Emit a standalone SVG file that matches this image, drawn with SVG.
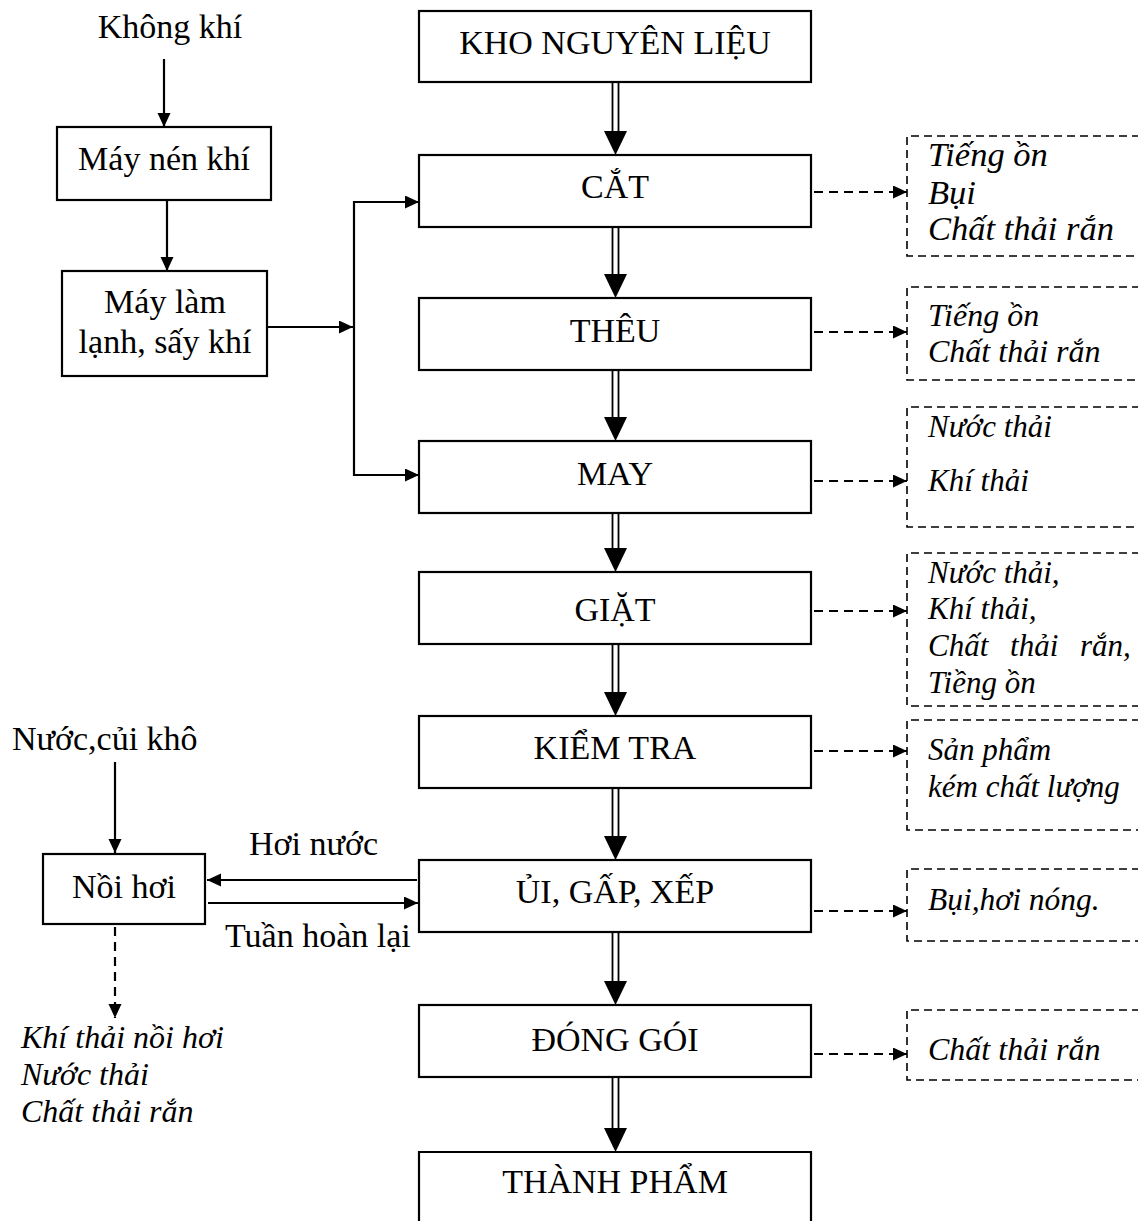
<svg xmlns="http://www.w3.org/2000/svg" width="1138" height="1221" viewBox="0 0 1138 1221">
<style>
  text { font-family: "Liberation Serif", "Times New Roman", serif; font-size: 34px; fill: #000; }
  .c { text-anchor: middle; }
  .i { font-style: italic; }
  .s32 { font-size: 32px; }
  .s31 { font-size: 31px; }
  .box { fill: #fff; stroke: #000; stroke-width: 2.2; }
  .ln { fill: none; stroke: #000; stroke-width: 2.2; }
  .dl { fill: none; stroke: #000; stroke-width: 2.2; stroke-dasharray: 9 6; }
  .db { fill: none; stroke: #000; stroke-width: 1.6; stroke-dasharray: 8 5; }
  .tw { fill: none; stroke: #000; stroke-width: 1.8; }
  .hd { fill: #000; stroke: none; }
</style>
<defs>
  <marker id="ahs" markerUnits="userSpaceOnUse" markerWidth="15" markerHeight="14" refX="14" refY="6.5" orient="auto">
    <path d="M0,0 L14,6.5 L0,13 Z" fill="#000"/>
  </marker>
</defs>

<!-- Connectors -->
<g id="connectors">
  <g id="dbl-arrows">
    <path class="tw" d="M612.5,82 V132 M618.5,82 V132"/><polygon class="hd" points="604,131 627,131 615.5,155"/>
    <path class="tw" d="M612.5,227 V275 M618.5,227 V275"/><polygon class="hd" points="604,274 627,274 615.5,298"/>
    <path class="tw" d="M612.5,370 V418 M618.5,370 V418"/><polygon class="hd" points="604,417 627,417 615.5,441"/>
    <path class="tw" d="M612.5,513 V549 M618.5,513 V549"/><polygon class="hd" points="604,548 627,548 615.5,572"/>
    <path class="tw" d="M612.5,644 V693 M618.5,644 V693"/><polygon class="hd" points="604,692 627,692 615.5,716"/>
    <path class="tw" d="M612.5,788 V837 M618.5,788 V837"/><polygon class="hd" points="604,836 627,836 615.5,860"/>
    <path class="tw" d="M612.5,932 V982 M618.5,932 V982"/><polygon class="hd" points="604,981 627,981 615.5,1005"/>
    <path class="tw" d="M612.5,1077 V1129 M618.5,1077 V1129"/><polygon class="hd" points="604,1128 627,1128 615.5,1152"/>
  </g>
  <line class="ln" x1="164" y1="59" x2="164" y2="127" marker-end="url(#ahs)"/>
  <line class="ln" x1="167" y1="200" x2="167" y2="271" marker-end="url(#ahs)"/>
  <line class="ln" x1="267" y1="327" x2="353" y2="327" marker-end="url(#ahs)"/>
  <path class="ln" d="M356,202 H354 V475 H356"/>
  <line class="ln" x1="354" y1="202" x2="419" y2="202" marker-end="url(#ahs)"/>
  <line class="ln" x1="354" y1="475" x2="419" y2="475" marker-end="url(#ahs)"/>
  <line class="ln" x1="115" y1="762" x2="115" y2="853" marker-end="url(#ahs)"/>
  <line class="ln" x1="417" y1="880" x2="207" y2="880" marker-end="url(#ahs)"/>
  <line class="ln" x1="208" y1="903" x2="418" y2="903" marker-end="url(#ahs)"/>
  <line class="dl" x1="115" y1="927" x2="115" y2="1018" marker-end="url(#ahs)"/>
  <line class="dl" x1="814" y1="192" x2="907" y2="192" marker-end="url(#ahs)"/>
  <line class="dl" x1="814" y1="332" x2="907" y2="332" marker-end="url(#ahs)"/>
  <line class="dl" x1="814" y1="481" x2="907" y2="481" marker-end="url(#ahs)"/>
  <line class="dl" x1="814" y1="611" x2="907" y2="611" marker-end="url(#ahs)"/>
  <line class="dl" x1="814" y1="751" x2="907" y2="751" marker-end="url(#ahs)"/>
  <line class="dl" x1="814" y1="911" x2="907" y2="911" marker-end="url(#ahs)"/>
  <line class="dl" x1="814" y1="1054" x2="907" y2="1054" marker-end="url(#ahs)"/>
</g>

<!-- Main process nodes -->
<g id="kho"><rect class="box" x="419" y="11" width="392" height="71"/><text class="c" x="615" y="54">KHO NGUYÊN LIỆU</text></g>
<g id="cat"><rect class="box" x="419" y="155" width="392" height="72"/><text class="c" x="615" y="198">CẮT</text></g>
<g id="theu"><rect class="box" x="419" y="298" width="392" height="72"/><text class="c" x="615" y="342">THÊU</text></g>
<g id="may"><rect class="box" x="419" y="441" width="392" height="72"/><text class="c" x="615" y="485">MAY</text></g>
<g id="giat"><rect class="box" x="419" y="572" width="392" height="72"/><text class="c" x="615" y="621">GIẶT</text></g>
<g id="kiemtra"><rect class="box" x="419" y="716" width="392" height="72"/><text class="c" x="615" y="759">KIỂM TRA</text></g>
<g id="ui"><rect class="box" x="419" y="860" width="392" height="72"/><text class="c" x="615" y="903">ỦI, GẤP, XẾP</text></g>
<g id="donggoi"><rect class="box" x="419" y="1005" width="392" height="72"/><text class="c" x="615" y="1051">ĐÓNG GÓI</text></g>
<g id="thanhpham"><path class="ln" d="M419,1225 V1152 H811 V1225"/><text class="c" x="615" y="1193">THÀNH PHẨM</text></g>

<!-- Air system -->
<g id="khongkhi"><text class="c" x="170" y="38">Không khí</text></g>
<g id="maynenkhi"><rect class="box" x="57" y="127" width="214" height="73"/><text class="c" x="164" y="170">Máy nén khí</text></g>
<g id="maylamlanh"><rect class="box" x="62" y="271" width="205" height="105"/><text class="c" x="165" y="313">Máy làm</text><text class="c" x="165" y="353">lạnh, sấy khí</text></g>

<!-- Boiler system -->
<g id="nuoccui"><text x="12" y="750">Nước,củi khô</text></g>
<g id="noihoi"><rect class="box" x="43" y="854" width="162" height="70"/><text class="c" x="124" y="898">Nồi hơi</text></g>
<g id="lbl-hoinuoc"><text x="249" y="855">Hơi nước</text></g>
<g id="lbl-tuanhoan"><text x="225" y="947">Tuần hoàn lại</text></g>
<g id="khithai-noihoi"><text class="i s32" x="21" y="1048">Khí thải nồi hơi</text><text class="i s32" x="21" y="1085">Nước thải</text><text class="i s32" x="21" y="1122">Chất thải rắn</text></g>

<!-- Emission nodes -->
<g id="em-cat"><path class="db" d="M1140,136 H907 V256 H1140"/><text class="i" x="928" y="166" style="font-size:34.5px">Tiếng ồn</text><text class="i" x="928" y="204" style="font-size:34.5px">Bụi</text><text class="i" x="928" y="240" style="font-size:34.5px">Chất thải rắn</text></g>
<g id="em-theu"><path class="db" d="M1140,287 H907 V380 H1140"/><text class="i s32" x="928" y="326">Tiếng ồn</text><text class="i s32" x="928" y="362">Chất thải rắn</text></g>
<g id="em-may"><path class="db" d="M1140,407 H907 V527 H1140"/><text class="i s31" x="928" y="437">Nước thải</text><text class="i s31" x="928" y="491">Khí thải</text></g>
<g id="em-giat"><path class="db" d="M1140,553 H907 V706 H1140"/><text class="i s31" x="928" y="583">Nước thải,</text><text class="i s31" x="928" y="619">Khí thải,</text><text class="i s31" x="928" y="656" style="word-spacing:14px">Chất thải rắn,</text><text class="i s31" x="928" y="693">Tiềng ồn</text></g>
<g id="em-kiemtra"><path class="db" d="M1140,720 H907 V830 H1140"/><text class="i s31" x="928" y="760">Sản phẩm</text><text class="i s31" x="928" y="797">kém chất lượng</text></g>
<g id="em-ui"><path class="db" d="M1140,869 H907 V941 H1140"/><text class="i" x="928" y="910" style="font-size:31.5px">Bụi,hơi nóng.</text></g>
<g id="em-donggoi"><path class="db" d="M1140,1010 H907 V1080 H1140"/><text class="i s32" x="928" y="1060">Chất thải rắn</text></g>
</svg>
